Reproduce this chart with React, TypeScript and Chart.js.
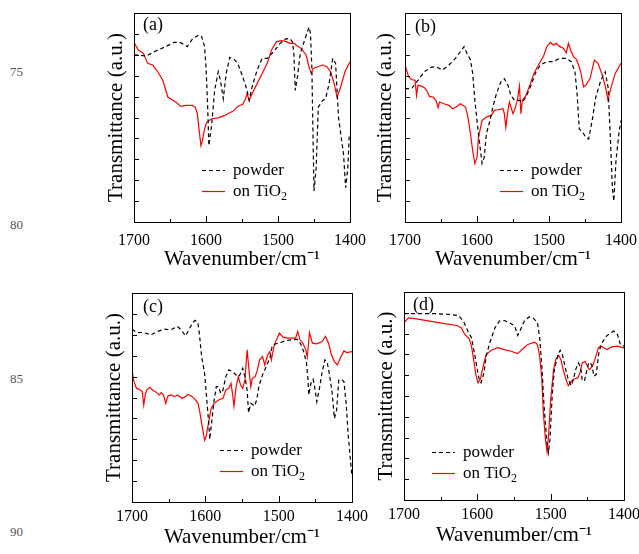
import React, { useEffect, useRef } from 'react';
import { Chart, registerables } from 'chart.js';

Chart.register(...registerables);

const SERIF = '"Liberation Serif", "Times New Roman", serif';

// ---- axis values ----
const xRange = [1400, 1700];
const yRange = [0, 10];
const xMajorTicks = [1700, 1600, 1500, 1400];
const xMinorTicks = [1650, 1550, 1450];
const yTickValues = [1, 2, 3, 4, 5, 6, 7, 8, 9];
const xTitle = 'Wavenumber/cm\u207B\u00B9';
const yTitle = 'Transmittance (a.u.)';
const seriesLabels = ['powder', 'on TiO\u2082'];
const panelLabels = ['(a)', '(b)', '(c)', '(d)'];
const lineNumbers = ['75', '80', '85', '90'];

// ---- data: [wavenumber, transmittance (a.u.)] ----
const aPowder = [
  [1700, 8.0], [1683, 7.94], [1667, 8.23], [1656, 8.39], [1644, 8.6], [1635, 8.58], [1626, 8.39],
  [1619, 8.75], [1610, 8.95], [1606, 8.87], [1602, 8.39], [1600, 7.43], [1598, 5.82], [1596, 3.65],
  [1592, 4.69], [1588, 6.3], [1583, 7.19], [1580, 6.78], [1576, 5.9], [1572, 7.1], [1567, 7.88],
  [1561, 7.78], [1556, 7.59], [1549, 6.95], [1543, 6.3], [1540, 5.82], [1536, 6.46], [1529, 7.27],
  [1522, 7.83], [1515, 7.83], [1506, 8.15], [1497, 8.55], [1490, 8.75], [1484, 8.79], [1480, 8.63],
  [1478, 8.07], [1476, 6.3], [1473, 6.95], [1469, 8.07], [1463, 8.71], [1457, 9.32], [1455, 9.04],
  [1453, 7.43], [1451, 3.41], [1450, 1.48], [1447, 2.6], [1444, 5.5], [1438, 5.82], [1434, 5.9],
  [1429, 6.62], [1424, 7.83], [1420, 7.59], [1416, 5.02], [1409, 3.25], [1406, 1.64], [1403, 2.6],
  [1401, 4.21], [1400, 4.21],
];
const aTiO2 = [
  [1700, 8.59], [1694, 8.23], [1687, 8.07], [1681, 7.59], [1674, 7.51], [1667, 7.19], [1660, 6.78],
  [1653, 5.98], [1646, 5.82], [1642, 5.74], [1635, 5.53], [1628, 5.58], [1619, 5.58], [1615, 5.5],
  [1612, 5.18], [1610, 4.53], [1607, 3.65], [1605, 3.89], [1602, 4.45], [1599, 4.77], [1592, 4.94],
  [1583, 4.98], [1574, 5.1], [1565, 5.26], [1561, 5.34], [1556, 5.53], [1549, 5.63], [1545, 5.9],
  [1543, 6.14], [1540, 5.82], [1536, 6.14], [1529, 6.62], [1522, 7.11], [1515, 7.59], [1509, 8.23],
  [1502, 8.63], [1495, 8.68], [1488, 8.63], [1484, 8.55], [1477, 8.55], [1475, 8.47], [1468, 8.31],
  [1461, 7.99], [1457, 7.43], [1454, 7.11], [1451, 7.35], [1445, 7.43], [1438, 7.51], [1432, 7.43],
  [1427, 7.19], [1422, 6.62], [1418, 5.98], [1413, 6.46], [1407, 7.19], [1400, 7.67],
];
const bPowder = [
  [1700, 6.38], [1691, 6.38], [1682, 6.78], [1673, 7.19], [1664, 7.4], [1657, 7.43], [1648, 7.27],
  [1639, 7.51], [1630, 7.83], [1623, 8.15], [1618, 8.39], [1614, 8.07], [1609, 7.75], [1606, 7.11],
  [1603, 5.82], [1598, 4.21], [1594, 3.09], [1593, 2.8], [1590, 3.09], [1587, 4.21], [1582, 4.86],
  [1578, 5.5], [1573, 6.14], [1567, 6.7], [1562, 6.86], [1557, 6.54], [1553, 6.06], [1548, 5.82],
  [1541, 5.82], [1537, 5.74], [1532, 5.98], [1525, 6.54], [1519, 7.11], [1512, 7.51], [1503, 7.67],
  [1494, 7.67], [1485, 7.83], [1476, 7.83], [1469, 7.67], [1464, 7.19], [1461, 6.14], [1458, 4.45],
  [1453, 4.29], [1449, 4.05], [1445, 3.97], [1440, 4.86], [1435, 5.98], [1428, 6.78], [1422, 7.19],
  [1418, 6.46], [1415, 4.21], [1412, 1.64], [1410, 1.0], [1407, 2.93], [1403, 4.21], [1400, 4.86],
];
const bTiO2 = [
  [1700, 7.51], [1695, 6.95], [1691, 6.82], [1686, 6.78], [1684, 6.06], [1682, 6.54], [1677, 6.5],
  [1673, 6.43], [1670, 6.3], [1666, 6.01], [1661, 5.98], [1657, 5.82], [1654, 5.47], [1652, 5.74],
  [1646, 5.66], [1639, 5.58], [1634, 5.42], [1629, 5.5], [1623, 5.66], [1616, 5.5], [1613, 5.1],
  [1609, 4.21], [1606, 3.41], [1603, 2.8], [1600, 3.09], [1598, 4.05], [1595, 4.53], [1593, 4.86],
  [1587, 5.02], [1580, 5.1], [1576, 5.34], [1571, 5.37], [1564, 5.42], [1562, 5.18], [1560, 4.53],
  [1557, 5.34], [1555, 5.74], [1550, 5.18], [1548, 5.34], [1544, 5.82], [1541, 6.5], [1539, 5.18],
  [1537, 5.82], [1532, 6.06], [1525, 6.7], [1521, 7.11], [1516, 7.43], [1512, 7.67], [1507, 7.99],
  [1503, 8.39], [1498, 8.59], [1494, 8.47], [1490, 8.55], [1485, 8.39], [1480, 8.31], [1476, 8.1],
  [1473, 8.55], [1470, 8.23], [1466, 7.91], [1462, 7.78], [1459, 7.51], [1456, 7.19], [1452, 6.46],
  [1449, 6.54], [1443, 6.86], [1437, 7.75], [1432, 7.59], [1426, 7.03], [1421, 6.38], [1418, 5.82],
  [1415, 6.3], [1408, 7.11], [1400, 7.59],
];
const cPowder = [
  [1700, 8.27], [1694, 8.11], [1685, 8.11], [1674, 8.0], [1665, 8.16], [1656, 8.27], [1647, 8.24],
  [1638, 8.4], [1633, 8.24], [1627, 7.95], [1622, 8.27], [1617, 8.59], [1614, 8.69], [1610, 8.56],
  [1608, 8.0], [1605, 6.96], [1601, 6.16], [1598, 4.88], [1595, 3.6], [1594, 2.99], [1591, 3.92],
  [1588, 4.88], [1585, 5.52], [1582, 5.52], [1579, 5.2], [1576, 5.36], [1572, 6.0], [1568, 6.32],
  [1563, 6.24], [1558, 6.08], [1554, 6.0], [1549, 6.4], [1546, 6.0], [1543, 5.36], [1541, 4.27],
  [1538, 4.72], [1533, 4.59], [1530, 4.88], [1527, 5.52], [1522, 6.08], [1518, 6.4], [1512, 6.88],
  [1509, 7.44], [1504, 7.57], [1497, 7.63], [1490, 7.73], [1481, 7.76], [1475, 7.79], [1470, 7.57],
  [1466, 7.2], [1462, 6.64], [1460, 5.84], [1459, 5.12], [1456, 5.68], [1453, 5.87], [1451, 5.52],
  [1448, 4.8], [1444, 5.52], [1441, 6.16], [1437, 6.8], [1434, 6.72], [1431, 6.16], [1427, 5.2],
  [1424, 4.0], [1421, 4.4], [1418, 5.84], [1415, 5.87], [1411, 5.76], [1408, 4.72], [1405, 3.12],
  [1400, 1.2],
];
const cTiO2 = [
  [1700, 6.32], [1698, 5.84], [1694, 5.44], [1690, 5.39], [1686, 5.28], [1684, 4.64], [1682, 5.12],
  [1680, 5.36], [1676, 5.49], [1672, 5.36], [1668, 5.28], [1663, 5.12], [1660, 5.23], [1657, 5.12],
  [1654, 4.72], [1651, 5.07], [1647, 5.12], [1642, 5.04], [1638, 5.12], [1632, 4.96], [1627, 5.04],
  [1624, 5.15], [1619, 5.07], [1615, 4.96], [1610, 4.72], [1608, 4.4], [1605, 3.76], [1601, 2.96],
  [1599, 3.12], [1595, 3.92], [1592, 4.48], [1588, 4.72], [1582, 4.88], [1576, 4.96], [1572, 5.36],
  [1568, 5.44], [1565, 5.68], [1563, 5.2], [1561, 4.59], [1558, 5.52], [1555, 6.0], [1552, 5.6],
  [1549, 5.44], [1546, 5.84], [1543, 7.28], [1540, 6.16], [1538, 5.52], [1536, 5.92], [1532, 6.0],
  [1529, 6.32], [1526, 6.8], [1522, 6.96], [1519, 6.56], [1515, 7.04], [1512, 7.2], [1510, 6.8],
  [1506, 7.52], [1502, 7.84], [1499, 8.08], [1494, 7.89], [1488, 7.84], [1481, 7.84], [1477, 7.84],
  [1474, 8.16], [1471, 7.76], [1467, 7.6], [1463, 7.28], [1461, 6.93], [1458, 8.11], [1454, 7.6],
  [1448, 7.57], [1441, 7.68], [1436, 7.92], [1432, 7.6], [1428, 7.04], [1424, 6.72], [1420, 6.56],
  [1416, 6.88], [1411, 7.23], [1407, 7.15], [1400, 7.2],
];
const dPowder = [
  [1700, 8.96], [1678, 8.96], [1656, 8.96], [1638, 8.92], [1626, 8.87], [1619, 8.6], [1613, 8.12],
  [1608, 7.8], [1604, 7.07], [1600, 6.27], [1597, 5.71], [1595, 5.63], [1591, 6.11], [1588, 6.91],
  [1583, 7.56], [1576, 8.28], [1570, 8.6], [1563, 8.63], [1556, 8.52], [1549, 8.36], [1545, 7.91],
  [1542, 8.12], [1536, 8.6], [1529, 8.81], [1524, 8.76], [1518, 8.52], [1515, 7.8], [1512, 6.43],
  [1509, 4.5], [1505, 2.73], [1503, 2.28], [1501, 2.89], [1498, 4.98], [1495, 6.27], [1490, 6.99],
  [1487, 7.2], [1484, 6.99], [1480, 6.35], [1476, 5.79], [1472, 5.5], [1469, 5.79], [1466, 6.27],
  [1462, 6.59], [1459, 6.35], [1457, 5.79], [1454, 5.71], [1451, 6.19], [1448, 6.62], [1444, 6.51],
  [1441, 5.95], [1438, 6.03], [1434, 7.15], [1430, 7.56], [1424, 7.88], [1418, 8.04], [1414, 8.12],
  [1409, 7.96], [1405, 7.48], [1400, 7.4],
];
const dTiO2 = [
  [1700, 8.52], [1694, 8.76], [1683, 8.71], [1665, 8.6], [1647, 8.49], [1628, 8.39], [1622, 8.28],
  [1617, 7.96], [1611, 7.75], [1608, 7.4], [1605, 6.75], [1602, 6.03], [1599, 5.63], [1596, 5.79],
  [1592, 6.43], [1588, 6.99], [1581, 7.2], [1572, 7.32], [1563, 7.23], [1554, 7.15], [1545, 7.04],
  [1538, 7.27], [1531, 7.48], [1522, 7.59], [1518, 7.48], [1515, 6.91], [1512, 5.79], [1510, 4.18],
  [1507, 2.89], [1505, 2.33], [1503, 3.05], [1500, 4.82], [1496, 6.27], [1493, 6.75], [1489, 6.95],
  [1486, 6.75], [1483, 6.27], [1479, 5.79], [1476, 5.5], [1472, 5.71], [1468, 5.82], [1463, 5.87],
  [1460, 6.11], [1457, 6.59], [1453, 6.67], [1450, 6.43], [1447, 6.27], [1443, 6.43], [1439, 6.83],
  [1435, 7.31], [1432, 7.4], [1427, 7.31], [1423, 7.23], [1417, 7.36], [1409, 7.4], [1400, 7.31],
];

// ---- layout (pixels) ----
const panels = [
  { label: panelLabels[0], powder: aPowder, tio2: aTiO2, left: 100, top: 0, axisW: 34, plotW: 221, plotH: 209, padTop: 13,
    tickPad: 9, xAxisH: 50, yTitlePad: 4, labelX: 9, labelY: 12, legX: 68, legY: 157 },
  { label: panelLabels[1], powder: bPowder, tio2: bTiO2, left: 370, top: 0, axisW: 35, plotW: 221, plotH: 209, padTop: 13,
    tickPad: 9, xAxisH: 50, yTitlePad: 3, labelX: 10, labelY: 14, legX: 95, legY: 157 },
  { label: panelLabels[2], powder: cPowder, tio2: cTiO2, left: 100, top: 280, axisW: 32, plotW: 221, plotH: 209, padTop: 13,
    tickPad: 5, xAxisH: 48, yTitlePad: 2, labelX: 11, labelY: 14, legX: 88, legY: 157 },
  { label: panelLabels[3], powder: dPowder, tio2: dTiO2, left: 370, top: 280, axisW: 34, plotW: 221, plotH: 208, padTop: 12,
    tickPad: 5, xAxisH: 48, yTitlePad: 4, labelX: 9, labelY: 13, legX: 28, legY: 160 },
];
const lineNumberY = [72, 225, 379, 532];
const RIGHT_PAD = 20;

const framePlugin = {
  id: 'frame',
  afterDatasetsDraw(chart: any, _args: any, opts: any) {
    const { ctx, chartArea: a, scales } = chart;
    ctx.save();
    ctx.strokeStyle = '#000';
    ctx.lineWidth = 1;
    ctx.setLineDash([]);
    ctx.strokeRect(Math.round(a.left) + 0.5, Math.round(a.top) + 0.5, Math.round(a.right - a.left), Math.round(a.bottom - a.top));
    ctx.beginPath();
    for (const v of yTickValues) {
      const y = Math.round(scales.y.getPixelForValue(v)) + 0.5;
      ctx.moveTo(a.left, y);
      ctx.lineTo(a.left + 5, y);
    }
    for (const v of xMajorTicks) {
      const x = Math.round(scales.x.getPixelForValue(v)) + 0.5;
      ctx.moveTo(x, a.bottom);
      ctx.lineTo(x, a.bottom - 6);
    }
    for (const v of xMinorTicks) {
      const x = Math.round(scales.x.getPixelForValue(v)) + 0.5;
      ctx.moveTo(x, a.bottom);
      ctx.lineTo(x, a.bottom - 3);
    }
    ctx.stroke();

    // panel label
    ctx.fillStyle = '#000';
    ctx.font = `18px ${SERIF}`;
    ctx.textBaseline = 'middle';
    ctx.textAlign = 'left';
    ctx.fillText(opts.label, a.left + opts.labelX, a.top + opts.labelY);

    // legend
    const ds = chart.data.datasets;
    ds.forEach((d: any, i: number) => {
      const y = Math.round(a.top + opts.legY + i * 21) + 0.5;
      const x0 = a.left + opts.legX;
      ctx.beginPath();
      ctx.strokeStyle = d.borderColor;
      ctx.lineWidth = d.borderWidth;
      ctx.setLineDash(d.borderDash || []);
      ctx.moveTo(x0, y);
      ctx.lineTo(x0 + 23, y);
      ctx.stroke();
      ctx.setLineDash([]);
      ctx.fillStyle = '#000';
      ctx.font = `17px ${SERIF}`;
      const label: string = d.label;
      const tx = x0 + 31;
      if (label.endsWith('\u2082')) {
        const base = label.slice(0, -1);
        ctx.fillText(base, tx, y);
        const w = ctx.measureText(base).width;
        ctx.font = `12px ${SERIF}`;
        ctx.fillText('2', tx + w, y + 5);
      } else {
        ctx.fillText(label, tx, y);
      }
    });
    ctx.restore();
  },
};

const toPoints = (arr: number[][]) => arr.map(([x, y]) => ({ x, y }));

function Panel({ p }: { p: any }) {
  const ref = useRef<HTMLCanvasElement | null>(null);
  const width = p.axisW + p.plotW + RIGHT_PAD;
  const height = p.padTop + p.plotH + p.xAxisH;
  useEffect(() => {
    const canvas = ref.current;
    if (!canvas) return;
    const chart = new Chart(canvas, {
      type: 'line',
      data: {
        datasets: [
          { label: seriesLabels[0], data: toPoints(p.powder), borderColor: '#000000', borderWidth: 1.2, borderDash: [4, 3],
            pointRadius: 0, fill: false, tension: 0 },
          { label: seriesLabels[1], data: toPoints(p.tio2), borderColor: '#ff0000', borderWidth: 1.2,
            pointRadius: 0, fill: false, tension: 0 },
        ],
      } as any,
      options: {
        responsive: false,
        animation: false,
        devicePixelRatio: 1,
        layout: { padding: { top: p.padTop, right: RIGHT_PAD, left: 0, bottom: 0 } },
        plugins: {
          legend: { display: false },
          tooltip: { enabled: false },
          frame: { label: p.label, labelX: p.labelX, labelY: p.labelY, legX: p.legX, legY: p.legY },
        } as any,
        scales: {
          x: {
            type: 'linear', reverse: true, min: xRange[0], max: xRange[1],
            grid: { display: false, drawTicks: false }, border: { display: false },
            ticks: { stepSize: 100, padding: p.tickPad, color: '#000', font: { family: SERIF, size: 16 },
              maxRotation: 0, autoSkip: false, callback: (v: any) => String(v) },
            title: { display: true, text: xTitle, color: '#000', font: { family: SERIF, size: 21 }, padding: { top: 0, bottom: 0 } },
            afterFit: (s: any) => { s.height = p.xAxisH; },
          },
          y: {
            type: 'linear', min: yRange[0], max: yRange[1],
            grid: { display: false, drawTicks: false }, border: { display: false },
            ticks: { display: false },
            title: { display: true, text: yTitle, color: '#000', font: { family: SERIF, size: 21 }, padding: { top: p.yTitlePad, bottom: 0 } },
            afterFit: (s: any) => { s.width = p.axisW; },
          },
        } as any,
      },
      plugins: [framePlugin],
    });
    return () => chart.destroy();
  }, []);
  return (
    <canvas ref={ref} width={width} height={height}
      style={{ position: 'absolute', left: p.left, top: p.top, width, height }} />
  );
}

export default function App() {
  return (
    <div style={{ position: 'fixed', left: 0, top: 0, width: 639, height: 554, background: '#fff', overflow: 'hidden' }}>
      {lineNumbers.map((n, i) => (
        <div key={n} style={{ position: 'absolute', left: 10, top: lineNumberY[i] - 8, fontFamily: SERIF, fontSize: 13,
          lineHeight: '16px', color: '#555' }}>{n}</div>
      ))}
      {panels.map((p) => <Panel key={p.label} p={p} />)}
    </div>
  );
}
